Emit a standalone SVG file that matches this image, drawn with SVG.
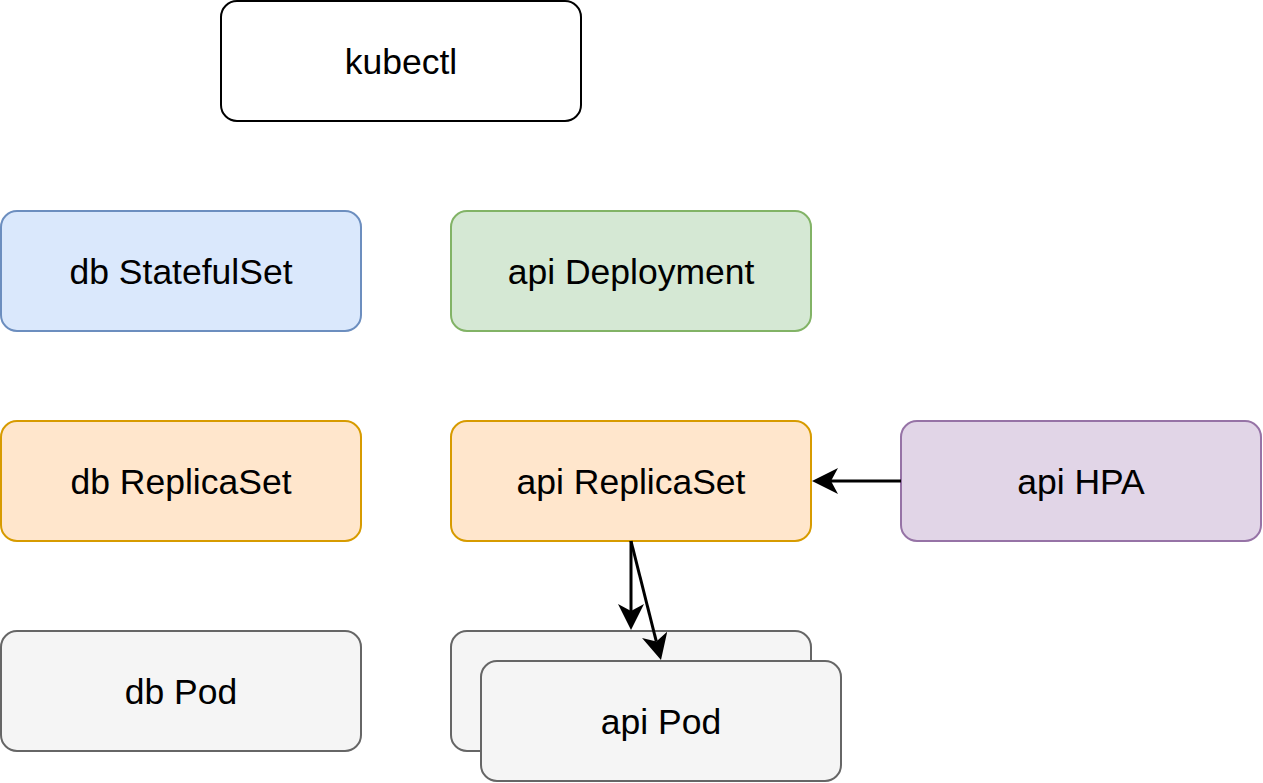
<svg xmlns="http://www.w3.org/2000/svg" width="1263" height="783" viewBox="0 0 1263 783">
<style>
.n{stroke-width:2}
.t{font-family:Helvetica,"Liberation Sans",Arial,sans-serif;font-size:35.5px;fill:#000;text-anchor:middle}
.white{fill:#ffffff;stroke:#000000}
.blue{fill:#dae8fc;stroke:#6c8ebf}
.green{fill:#d5e8d4;stroke:#82b366}
.orange{fill:#ffe6cc;stroke:#d79b00}
.purple{fill:#e1d5e7;stroke:#9673a6}
.gray{fill:#f5f5f5;stroke:#666666}
.e{stroke:#000;stroke-width:3;fill:none;marker-end:url(#ah)}
</style>
<defs>
<marker id="ah" viewBox="0 0 26 26" markerWidth="26" markerHeight="26" refX="7" refY="13" orient="auto" markerUnits="userSpaceOnUse">
<path d="M0,0 L26,13 L0,26 L7,13 z" fill="#000"/>
</marker>
</defs>
<rect x="0" y="0" width="1263" height="783" fill="#fff"/>
<g id="kubectl"><rect class="n white" x="221" y="1" width="360" height="120" rx="16"/><text class="t" x="401" y="74">kubectl</text></g>
<g id="db-statefulset"><rect class="n blue" x="1" y="211" width="360" height="120" rx="16"/><text class="t" x="181" y="284">db StatefulSet</text></g>
<g id="api-deployment"><rect class="n green" x="451" y="211" width="360" height="120" rx="16"/><text class="t" x="631" y="284">api Deployment</text></g>
<g id="db-replicaset"><rect class="n orange" x="1" y="421" width="360" height="120" rx="16"/><text class="t" x="181" y="494">db ReplicaSet</text></g>
<g id="api-replicaset"><rect class="n orange" x="451" y="421" width="360" height="120" rx="16"/><text class="t" x="631" y="494">api ReplicaSet</text></g>
<g id="api-hpa"><rect class="n purple" x="901" y="421" width="360" height="120" rx="16"/><text class="t" x="1081" y="494">api HPA</text></g>
<g id="db-pod"><rect class="n gray" x="1" y="631" width="360" height="120" rx="16"/><text class="t" x="181" y="704">db Pod</text></g>
<g id="api-pod-back"><rect class="n gray" x="451" y="631" width="360" height="120" rx="16"/></g>
<g id="api-pod"><rect class="n gray" x="481" y="661" width="360" height="120" rx="16"/><text class="t" x="661" y="734">api Pod</text></g>
<g id="connectors">
<line class="e" x1="631" y1="541" x2="631" y2="611"/>
<line class="e" x1="631" y1="541" x2="656.35" y2="641.6"/>
<line class="e" x1="901" y1="481" x2="831" y2="481"/>
</g>
</svg>
